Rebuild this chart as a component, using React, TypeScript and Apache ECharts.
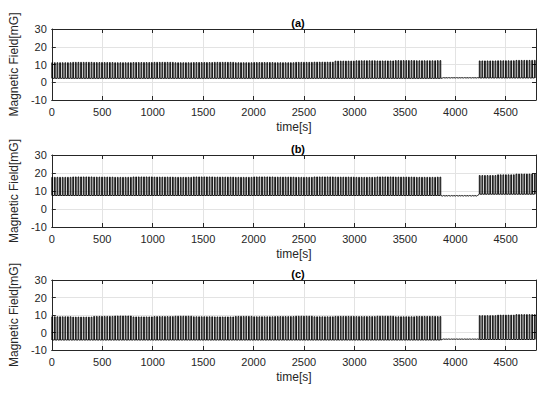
import React, { useEffect, useRef } from "react";
import * as echarts from "echarts";

// ---- data ----
const PERIOD = 26; // s, pulse repetition
const DUTY = 0.3;
const BLOCK = 200; // s per level block
const GAP_START = 3850;
const GAP_END = 4220;
const T_MAX = 4800;
const xTicks = [0, 500, 1000, 1500, 2000, 2500, 3000, 3500, 4000, 4500];
const yTicks = [-10, 0, 10, 20, 30];
const panelTitles = ["(a)", "(b)", "(c)"];

// peak levels per 200 s block (mG)
const highA = [11.0, 11.2, 11.1, 11.0, 11.1, 11.2, 11.0, 11.1, 11.2, 11.0, 11.1, 11.0, 11.2, 11.3, 11.9, 12.1, 12.0, 12.2, 12.1, 12.2, 12.0, 12.0, 12.1, 12.3];
const lowA = [2.2, 2.2, 2.2, 2.2, 2.2, 2.2, 2.2, 2.2, 2.2, 2.2, 2.2, 2.2, 2.2, 2.2, 2.2, 2.2, 2.2, 2.2, 2.2, 2.2, 2.4, 2.4, 2.4, 2.4];
const gapA = [2.4, 2.6];

const highB = [17.6, 17.8, 17.7, 17.6, 17.8, 17.7, 17.6, 17.8, 17.7, 17.6, 17.8, 17.7, 17.6, 17.8, 17.7, 17.6, 17.8, 17.7, 17.6, 17.7, 18.5, 18.6, 19.0, 19.4];
const lowB = [7.5, 7.5, 7.5, 7.5, 7.5, 7.5, 7.5, 7.5, 7.5, 7.5, 7.5, 7.5, 7.5, 7.5, 7.5, 7.5, 7.5, 7.5, 7.5, 7.5, 8.2, 8.2, 8.2, 8.2];
const gapB = [7.2, 7.5];

const highC = [9.0, 8.8, 9.2, 9.4, 8.9, 9.1, 9.3, 9.0, 8.9, 9.2, 9.0, 9.1, 9.3, 9.0, 9.2, 9.1, 9.3, 9.0, 9.2, 9.1, 9.5, 9.6, 9.9, 10.2];
const lowC = [-4.3, -4.3, -4.3, -4.3, -4.3, -4.3, -4.3, -4.3, -4.3, -4.3, -4.3, -4.3, -4.3, -4.3, -4.3, -4.3, -4.3, -4.3, -4.3, -4.3, -4.0, -4.0, -4.0, -4.0];
const gapC = [-3.9, -3.7];

function buildWave(highs: number[], lows: number[], gap: number[]) {
  const pts: number[][] = [];
  for (let t = 0; t < T_MAX; t += PERIOD) {
    const b = Math.min(highs.length - 1, Math.floor(t / BLOCK));
    const inGap = t >= GAP_START && t < GAP_END;
    const hi = inGap ? gap[1] : highs[b];
    const lo = inGap ? gap[0] : lows[b];
    const w = PERIOD * DUTY;
    pts.push([t, lo], [t, hi], [Math.min(t + w, T_MAX), hi], [Math.min(t + w, T_MAX), lo]);
  }
  return pts;
}

const TXT = "#262626";
const FONT = "Liberation Sans, Arial, sans-serif";

export default function App() {
  const ref = useRef<HTMLDivElement>(null);
  useEffect(() => {
    if (!ref.current) return;
    const chart = echarts.init(ref.current, undefined, { renderer: "svg" });
    const grids = [
      { left: 50, top: 29, width: 486, height: 71 },
      { left: 50, top: 155, width: 486, height: 72 },
      { left: 50, top: 280, width: 486, height: 70 },
    ];
    const waves = [
      buildWave(highA, lowA, gapA),
      buildWave(highB, lowB, gapB),
      buildWave(highC, lowC, gapC),
    ];
    const xAxis: any[] = [];
    const yAxis: any[] = [];
    const series: any[] = [];
    const titles: any[] = [];
    grids.forEach((g, i) => {
      xAxis.push({
        gridIndex: i,
        type: "value",
        min: 0,
        max: T_MAX,
        interval: 500,
        name: "time[s]",
        nameLocation: "middle",
        nameGap: 21,
        nameTextStyle: { color: TXT, fontSize: 12, fontFamily: FONT },
        axisLine: { show: true, onZero: false, lineStyle: { color: TXT, width: 1 } },
        axisTick: { show: true, inside: true, length: 4, lineStyle: { color: TXT } },
        axisLabel: {
          color: TXT, fontSize: 11, fontFamily: FONT, margin: 6, showMaxLabel: false,
          formatter: (v: number) => (xTicks.includes(v) ? String(v) : ""),
        },
        splitLine: { show: true, lineStyle: { color: "#e3e3e3", width: 1 } },
      });
      xAxis.push({
        gridIndex: i, type: "value", position: "top", min: 0, max: T_MAX, interval: 500,
        axisLine: { show: true, onZero: false, lineStyle: { color: TXT, width: 1 } },
        axisTick: { show: true, inside: true, length: 4, lineStyle: { color: TXT } },
        axisLabel: { show: false }, splitLine: { show: false },
      });
      yAxis.push({
        gridIndex: i, type: "value", min: -10, max: 30, interval: 10,
        name: "Magnetic Field[mG]", nameLocation: "middle", nameGap: 31,
        nameTextStyle: { color: TXT, fontSize: 12, fontFamily: FONT },
        axisLine: { show: true, onZero: false, lineStyle: { color: TXT, width: 1 } },
        axisTick: { show: true, inside: true, length: 4, lineStyle: { color: TXT } },
        axisLabel: {
          color: TXT, fontSize: 11, fontFamily: FONT, margin: 5,
          formatter: (v: number) => (yTicks.includes(v) ? String(v) : ""),
        },
        splitLine: { show: true, lineStyle: { color: "#e3e3e3", width: 1 } },
      });
      yAxis.push({
        gridIndex: i, type: "value", position: "right", min: -10, max: 30, interval: 10,
        axisLine: { show: true, onZero: false, lineStyle: { color: TXT, width: 1 } },
        axisTick: { show: true, inside: true, length: 4, lineStyle: { color: TXT } },
        axisLabel: { show: false }, splitLine: { show: false },
      });
      series.push({
        type: "line",
        xAxisIndex: i * 2,
        yAxisIndex: i * 2,
        data: waves[i],
        showSymbol: false,
        symbol: "none",
        lineStyle: { color: "#000", width: 0.9 },
        silent: true,
      });
      titles.push({
        text: panelTitles[i],
        left: 293,
        top: g.top - 17,
        textAlign: "center",
        textStyle: { color: "#000", fontSize: 11, fontWeight: "bold", fontFamily: FONT },
      });
    });
    chart.setOption({
      animation: false,
      backgroundColor: "#fff",
      title: titles,
      grid: grids.map((g) => ({ ...g, show: false })),
      xAxis,
      yAxis,
      series,
    });
    return () => chart.dispose();
  }, []);
  return <div ref={ref} style={{ width: 550, height: 394, position: "absolute", left: 0, top: 0 }} />;
}
